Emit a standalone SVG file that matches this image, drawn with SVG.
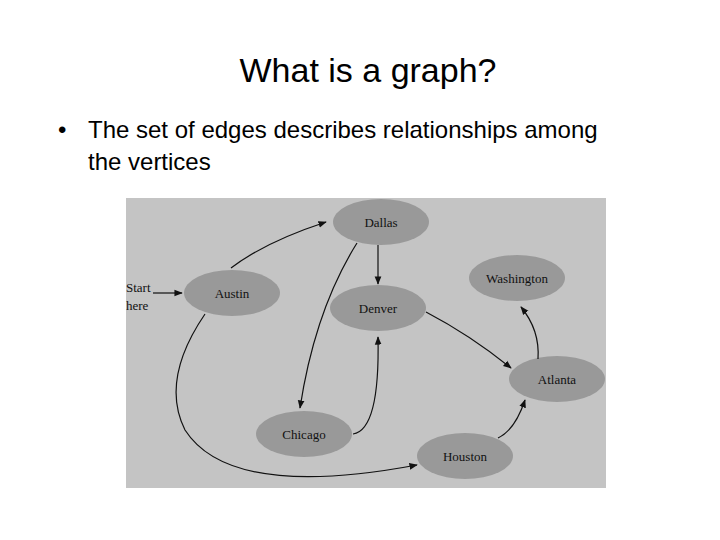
<svg xmlns="http://www.w3.org/2000/svg" width="720" height="540" viewBox="0 0 720 540">
<style>
.t{font-family:"Liberation Sans",Arial,sans-serif;fill:#000}
.n ellipse{fill:#999999}
.n text{font-family:"Liberation Serif","Times New Roman",serif;font-size:13px;fill:#111;text-anchor:middle}
.e path{fill:none;stroke:#111;stroke-width:1.2;marker-end:url(#a)}
</style>
<defs><marker id="a" viewBox="0 0 10 10" refX="9" refY="5" markerWidth="7" markerHeight="7" orient="auto"><path d="M0,1 L10,5 L0,9 z" fill="#111"/></marker></defs>
<rect width="720" height="540" fill="#fff"/>
<text class="t" x="368" y="82" font-size="34" text-anchor="middle">What is a graph?</text>
<text class="t" x="58" y="138" font-size="24">•</text>
<text class="t" x="88" y="138" font-size="24">The set of edges describes relationships among</text>
<text class="t" x="88" y="170" font-size="24">the vertices</text>
<rect x="126" y="198" width="480" height="290" fill="#c4c4c4"/>
<g class="n" id="dallas"><ellipse cx="381" cy="222" rx="48" ry="23"/><text x="381" y="227">Dallas</text></g>
<g class="n" id="austin"><ellipse cx="232" cy="293" rx="48" ry="23"/><text x="232" y="298">Austin</text></g>
<g class="n" id="denver"><ellipse cx="378" cy="308" rx="48" ry="23"/><text x="378" y="313">Denver</text></g>
<g class="n" id="washington"><ellipse cx="517" cy="278" rx="48" ry="23"/><text x="517" y="283">Washington</text></g>
<g class="n" id="atlanta"><ellipse cx="557" cy="379" rx="48" ry="23"/><text x="557" y="384">Atlanta</text></g>
<g class="n" id="chicago"><ellipse cx="304" cy="434" rx="48" ry="23"/><text x="304" y="439">Chicago</text></g>
<g class="n" id="houston"><ellipse cx="465" cy="456" rx="48" ry="23"/><text x="465" y="461">Houston</text></g>
<text x="126" y="292" font-family="Liberation Serif,serif" font-size="13" fill="#111">Start</text>
<text x="126" y="310" font-family="Liberation Serif,serif" font-size="13" fill="#111">here</text>
<g class="e" id="edges">
<path d="M153,293 L182,293"/>
<path d="M231,268 Q265,242 326,222"/>
<path d="M378,245 L378,284"/>
<path d="M357,243 Q315,310 300,408"/>
<path d="M353,434 Q380,430 378,337"/>
<path d="M426,312 Q470,335 511,368"/>
<path d="M538,359 Q540,330 521,307"/>
<path d="M498,438 Q515,430 525,400"/>
<path d="M205,314 Q160,380 185,430 Q230,500 417,465"/>
</g>
</svg>
